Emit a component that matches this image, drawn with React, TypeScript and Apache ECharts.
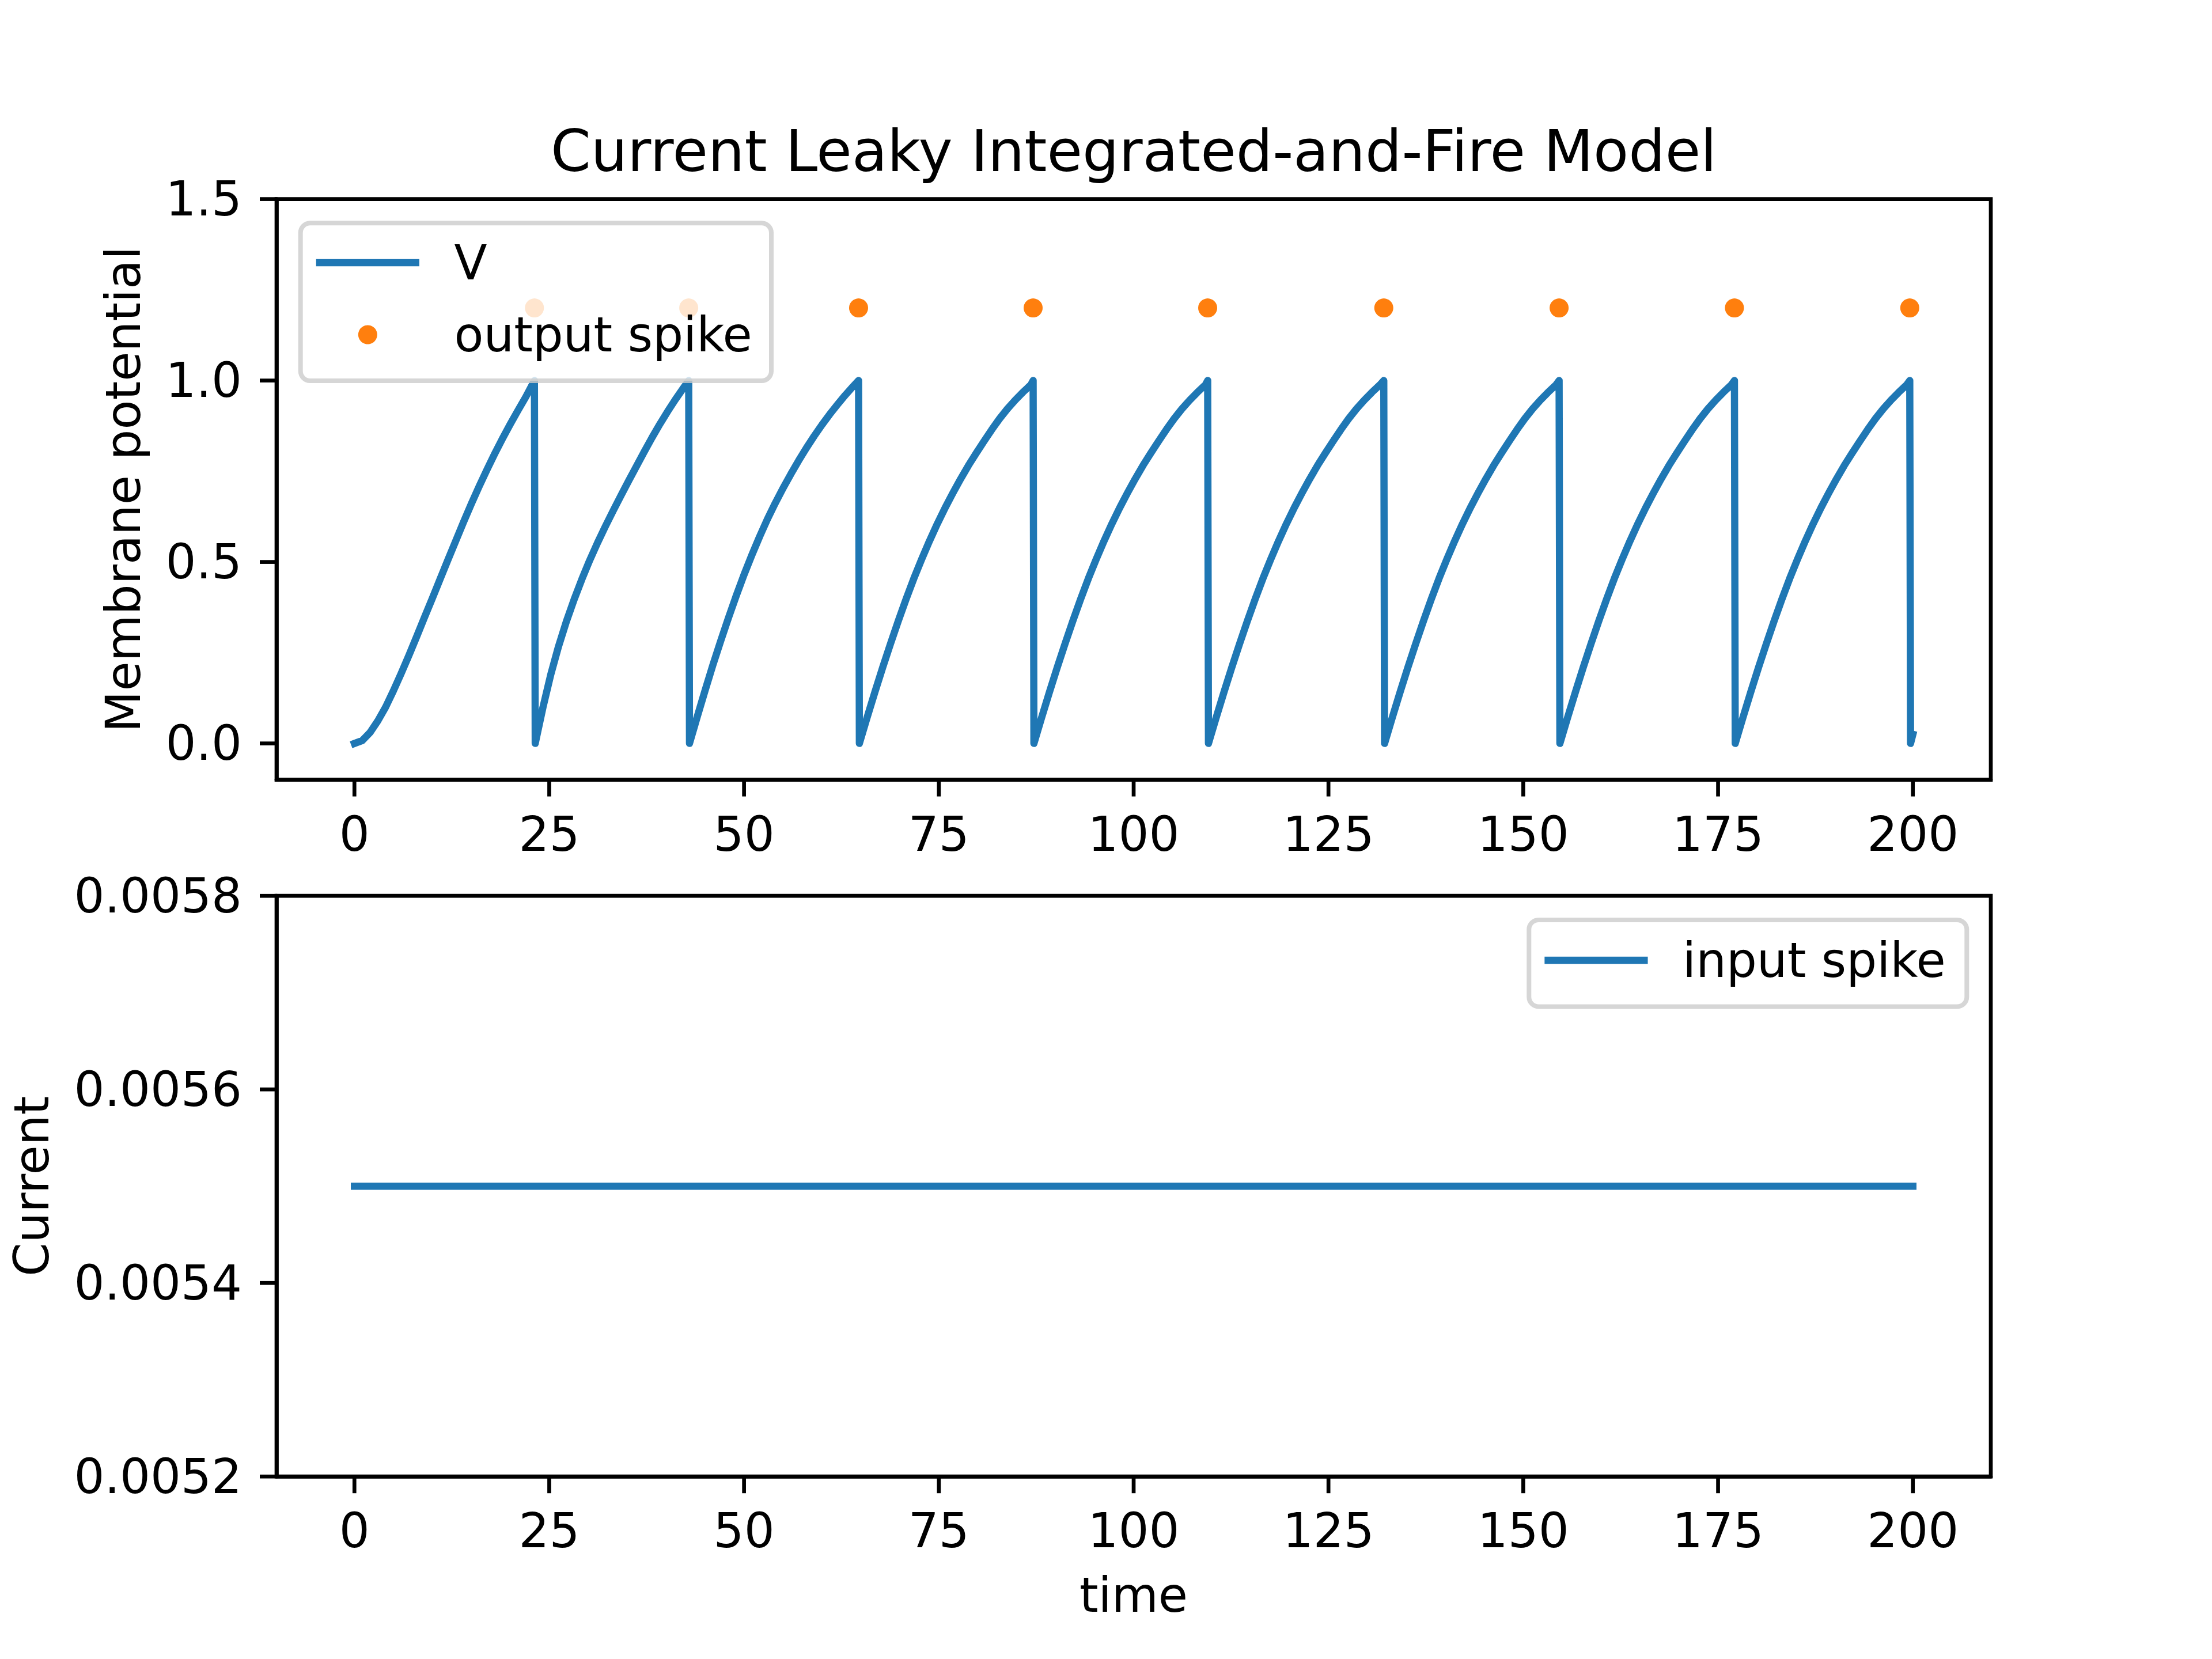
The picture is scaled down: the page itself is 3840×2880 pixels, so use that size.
import React, { useEffect, useRef } from "react";
import * as echarts from "echarts";

// ---- data -------------------------------------------------------------

// Membrane potential trace [time, V]; each ramp ends at threshold (1.0) and resets to 0.
const membraneTrace: [number, number][] = [
  // first ramp (synaptic current still building up)
  [0, 0], [1, 0.008], [2, 0.03], [3, 0.062], [4, 0.1], [5, 0.145], [6, 0.193], [7, 0.243],
  [8, 0.295], [9, 0.348], [10, 0.4], [11, 0.453], [12, 0.506], [13, 0.558], [14, 0.61],
  [15, 0.66], [16, 0.708], [17, 0.754], [18, 0.798], [19, 0.84], [20, 0.88], [21, 0.918],
  [22, 0.955], [23.1, 1.0],
  // second ramp
  [23.2, 0], [24.2, 0.1], [25.2, 0.19], [26.2, 0.268], [27.2, 0.336], [28.2, 0.397],
  [29.2, 0.453], [30.2, 0.505], [31.2, 0.553], [32.2, 0.598], [33.2, 0.641], [34.2, 0.683],
  [35.2, 0.724], [36.2, 0.764], [37.2, 0.804], [38.2, 0.843], [39.2, 0.88], [40.2, 0.915],
  [41.2, 0.948], [42.2, 0.979], [42.9, 1.0],
  // third ramp
  [43.0, 0], [44, 0.074], [45, 0.146], [46, 0.216], [47, 0.282], [48, 0.346], [49, 0.407],
  [50, 0.465], [51, 0.519], [52, 0.57], [53, 0.618], [54, 0.662], [55, 0.703], [56, 0.742],
  [57, 0.779], [58, 0.814], [59, 0.847], [60, 0.878], [61, 0.907], [62, 0.934], [63, 0.96],
  [64, 0.984], [64.7, 1.0],
  // fourth ramp
  [64.8, 0], [65.8, 0.072], [66.8, 0.142], [67.8, 0.21], [68.8, 0.275], [69.8, 0.338],
  [70.8, 0.398], [71.8, 0.455], [72.8, 0.508], [73.8, 0.558], [74.8, 0.605], [75.8, 0.649],
  [76.8, 0.69], [77.8, 0.729], [78.8, 0.766], [79.8, 0.8], [80.8, 0.833], [81.8, 0.865],
  [82.8, 0.895], [83.8, 0.922], [84.8, 0.946], [85.8, 0.968], [86.8, 0.988], [87.1, 1.0],
  // fifth ramp
  [87.2, 0], [88.2, 0.072], [89.2, 0.142], [90.2, 0.21], [91.2, 0.275], [92.2, 0.338],
  [93.2, 0.398], [94.2, 0.455], [95.2, 0.508], [96.2, 0.558], [97.2, 0.605], [98.2, 0.649],
  [99.2, 0.69], [100.2, 0.729], [101.2, 0.766], [102.2, 0.8], [103.2, 0.833], [104.2, 0.865],
  [105.2, 0.895], [106.2, 0.922], [107.2, 0.946], [108.2, 0.968], [109.2, 0.988], [109.5, 1.0],
  // sixth ramp
  [109.6, 0], [110.6, 0.072], [111.6, 0.142], [112.6, 0.21], [113.6, 0.275], [114.6, 0.338],
  [115.6, 0.398], [116.6, 0.455], [117.6, 0.508], [118.6, 0.558], [119.6, 0.605], [120.6, 0.649],
  [121.6, 0.69], [122.6, 0.729], [123.6, 0.766], [124.6, 0.8], [125.6, 0.833], [126.6, 0.865],
  [127.6, 0.895], [128.6, 0.922], [129.6, 0.946], [130.6, 0.968], [131.6, 0.988], [132.1, 1.0],
  // seventh ramp
  [132.2, 0], [133.2, 0.072], [134.2, 0.142], [135.2, 0.21], [136.2, 0.275], [137.2, 0.338],
  [138.2, 0.398], [139.2, 0.455], [140.2, 0.508], [141.2, 0.558], [142.2, 0.605], [143.2, 0.649],
  [144.2, 0.69], [145.2, 0.729], [146.2, 0.766], [147.2, 0.8], [148.2, 0.833], [149.2, 0.865],
  [150.2, 0.895], [151.2, 0.922], [152.2, 0.946], [153.2, 0.968], [154.2, 0.988], [154.6, 1.0],
  // eighth ramp
  [154.7, 0], [155.7, 0.072], [156.7, 0.142], [157.7, 0.21], [158.7, 0.275], [159.7, 0.338],
  [160.7, 0.398], [161.7, 0.455], [162.7, 0.508], [163.7, 0.558], [164.7, 0.605], [165.7, 0.649],
  [166.7, 0.69], [167.7, 0.729], [168.7, 0.766], [169.7, 0.8], [170.7, 0.833], [171.7, 0.865],
  [172.7, 0.895], [173.7, 0.922], [174.7, 0.946], [175.7, 0.968], [176.7, 0.988], [177.1, 1.0],
  // ninth ramp
  [177.2, 0], [178.2, 0.072], [179.2, 0.142], [180.2, 0.21], [181.2, 0.275], [182.2, 0.338],
  [183.2, 0.398], [184.2, 0.455], [185.2, 0.508], [186.2, 0.558], [187.2, 0.605], [188.2, 0.649],
  [189.2, 0.69], [190.2, 0.729], [191.2, 0.766], [192.2, 0.8], [193.2, 0.833], [194.2, 0.865],
  [195.2, 0.895], [196.2, 0.922], [197.2, 0.946], [198.2, 0.968], [199.2, 0.988], [199.6, 1.0],
  // tail after the last reset
  [199.7, 0], [200, 0.025],
];

// Output spike markers
const spikeTimes = [23.1, 42.9, 64.7, 87.1, 109.5, 132.1, 154.6, 177.1, 199.6];
const spikeMarks = [1.2, 1.2, 1.2, 1.2, 1.2, 1.2, 1.2, 1.2, 1.2];

// Input current (constant drive)
const inputTime = [0, 200];
const inputCurrent = [0.0055, 0.0055];

// Axis ranges and tick values
const timeRange = [-10, 210];
const potentialRange = [-0.1, 1.5];
const currentRange = [0.0052, 0.0058];
const timeTicks = [0, 25, 50, 75, 100, 125, 150, 175, 200];
const potentialTicks = [0, 0.5, 1.0, 1.5];
const currentTicks = [0.0052, 0.0054, 0.0056, 0.0058];

// ---- styling ----------------------------------------------------------

const FONT = "DejaVu Sans";
const BLUE = "#1f77b4";
const ORANGE = "#ff7f0e";
const TICK_FS = 83.33;
const SPINE_W = 6.67;
const TICK_LEN = 29;

const W = 3840;
const H = 2880;
const AX_LEFT = 480;
const AX_WIDTH = 2976;
const AX_HEIGHT = 1008;
const TOP1 = 345.6;
const TOP2 = 1555.2;
const AX_CX = AX_LEFT + AX_WIDTH / 2;

function xAxisCfg(gridIndex: number) {
  return {
    gridIndex,
    type: "value",
    min: timeRange[0],
    max: timeRange[1],
    splitLine: { show: false },
    axisLine: { show: true, onZero: false, lineStyle: { color: "#000", width: SPINE_W } },
    axisTick: { show: false },
    axisLabel: {
      customValues: timeTicks,
      margin: 53,
      fontSize: TICK_FS,
      fontFamily: FONT,
      color: "#000",
    },
  };
}

function yAxisCfg(gridIndex: number, range: number[], ticks: number[], digits: number) {
  return {
    gridIndex,
    type: "value",
    min: range[0],
    max: range[1],
    splitLine: { show: false },
    axisLine: { show: true, onZero: false, lineStyle: { color: "#000", width: SPINE_W } },
    axisTick: { show: false },
    axisLabel: {
      customValues: ticks,
      margin: 60,
      fontSize: TICK_FS,
      fontFamily: FONT,
      color: "#000",
      formatter: (v: number) => Number(v).toFixed(digits),
    },
  };
}

function textEl(text: string, x: number, y: number, size: number, align: string, rotation = 0) {
  return {
    type: "text",
    x,
    y,
    rotation,
    z: 100,
    silent: true,
    style: {
      text,
      fontSize: size,
      fontFamily: FONT,
      fill: "#000",
      textAlign: align,
      textVerticalAlign: "middle",
      verticalAlign: "middle",
    },
  };
}

// Legend box: rounded, semi-transparent frame
function legendFrame(x: number, y: number, width: number, height: number) {
  return {
    type: "rect",
    z: 100,
    silent: true,
    shape: { x, y, width, height, r: 16.7 },
    style: {
      fill: "rgba(255,255,255,0.8)",
      stroke: "rgba(204,204,204,0.8)",
      lineWidth: 8,
    },
  };
}

function segment(x1: number, y1: number, x2: number, y2: number, color: string, width: number, z = 101) {
  return {
    type: "line",
    z,
    silent: true,
    shape: { x1, y1, x2, y2 },
    style: { stroke: color, lineWidth: width, lineCap: "butt" },
  };
}

// Outward tick marks, positioned through the axes' own value-to-pixel conversion.
function tickMarks(chart: echarts.ECharts) {
  const out: any[] = [];
  const panels = [
    { idx: 0, yRange: potentialRange, yTicks: potentialTicks },
    { idx: 1, yRange: currentRange, yTicks: currentTicks },
  ];
  for (const p of panels) {
    const finder = { xAxisIndex: p.idx, yAxisIndex: p.idx };
    for (const t of timeTicks) {
      const pt = chart.convertToPixel(finder as any, [t, p.yRange[0]]) as number[];
      if (pt) out.push(segment(pt[0], pt[1], pt[0], pt[1] + TICK_LEN, "#000", SPINE_W, 50));
    }
    for (const v of p.yTicks) {
      const pt = chart.convertToPixel(finder as any, [timeRange[0], v]) as number[];
      if (pt) out.push(segment(pt[0] - TICK_LEN, pt[1], pt[0], pt[1], "#000", SPINE_W, 50));
    }
  }
  return out;
}

function staticGraphics() {
  // legend geometry (upper left of top panel, upper right of bottom panel)
  const topLegX = 521.7;
  const topLegY = 387.3;
  const botLegW = 760;
  const botLegX = AX_LEFT + AX_WIDTH - 41.7 - botLegW;
  const botLegY = 1596.9;
  const hx = 33.3;
  const hl = 166.7;
  const tp = 66.7;

  return [
    // title and axis titles
    textEl("Current Leaky Integrated-and-Fire Model", AX_CX, 262.4, 100, "center"),
    textEl("Membrane potential", 214, TOP1 + AX_HEIGHT / 2, TICK_FS, "center", Math.PI / 2),
    textEl("Current", 55, TOP2 + AX_HEIGHT / 2, TICK_FS, "center", Math.PI / 2),
    textEl("time", AX_CX, 2769, TICK_FS, "center"),

    // top legend
    legendFrame(topLegX, topLegY, 817.3, 273.7),
    segment(topLegX + hx - 6.25, 456, topLegX + hx + hl + 6.25, 456, BLUE, 12.5),
    textEl("V", topLegX + hx + hl + tp, 456, TICK_FS, "left"),
    {
      type: "circle",
      z: 101,
      silent: true,
      shape: { cx: topLegX + hx + hl / 2, cy: 581, r: 16.5 },
      style: { fill: ORANGE },
    },
    textEl("output spike", topLegX + hx + hl + tp, 581, TICK_FS, "left"),

    // bottom legend
    legendFrame(botLegX, botLegY, botLegW, 150.5),
    segment(botLegX + hx - 6.25, 1667, botLegX + hx + hl + 6.25, 1667, BLUE, 12.5),
    textEl("input spike", botLegX + hx + hl + tp, 1667, TICK_FS, "left"),
  ];
}

function buildOption() {
  return {
    animation: false,
    grid: [
      { left: AX_LEFT, top: TOP1, width: AX_WIDTH, height: AX_HEIGHT, show: true, borderColor: "#000", borderWidth: SPINE_W },
      { left: AX_LEFT, top: TOP2, width: AX_WIDTH, height: AX_HEIGHT, show: true, borderColor: "#000", borderWidth: SPINE_W },
    ],
    xAxis: [xAxisCfg(0), xAxisCfg(1)],
    yAxis: [
      yAxisCfg(0, potentialRange, potentialTicks, 1),
      yAxisCfg(1, currentRange, currentTicks, 4),
    ],
    series: [
      {
        name: "V",
        type: "line",
        xAxisIndex: 0,
        yAxisIndex: 0,
        data: membraneTrace,
        symbol: "none",
        showSymbol: false,
        silent: true,
        z: 2,
        lineStyle: { color: BLUE, width: 12.5, cap: "square", join: "round" },
      },
      {
        name: "output spike",
        type: "scatter",
        xAxisIndex: 0,
        yAxisIndex: 0,
        data: spikeTimes.map((t, i) => [t, spikeMarks[i]]),
        symbol: "circle",
        symbolSize: 33,
        silent: true,
        z: 3,
        itemStyle: { color: ORANGE, opacity: 1 },
      },
      {
        name: "input spike",
        type: "line",
        xAxisIndex: 1,
        yAxisIndex: 1,
        data: inputTime.map((t, i) => [t, inputCurrent[i]]),
        symbol: "none",
        showSymbol: false,
        silent: true,
        z: 2,
        lineStyle: { color: BLUE, width: 12.5, cap: "square", join: "round" },
      },
    ],
  };
}

export default function App() {
  const ref = useRef<HTMLDivElement>(null);

  useEffect(() => {
    document.body.style.margin = "0";
    if (!ref.current) return;
    const chart = echarts.init(ref.current, null, { renderer: "svg", width: W, height: H });
    chart.setOption(buildOption() as any);
    let ticks: any[] = [];
    try {
      ticks = tickMarks(chart);
    } catch (e) {
      ticks = [];
    }
    chart.setOption({ graphic: [...ticks, ...staticGraphics()] } as any);
    return () => {
      chart.dispose();
    };
  }, []);

  return <div ref={ref} style={{ width: W, height: H, background: "#fff" }} />;
}
